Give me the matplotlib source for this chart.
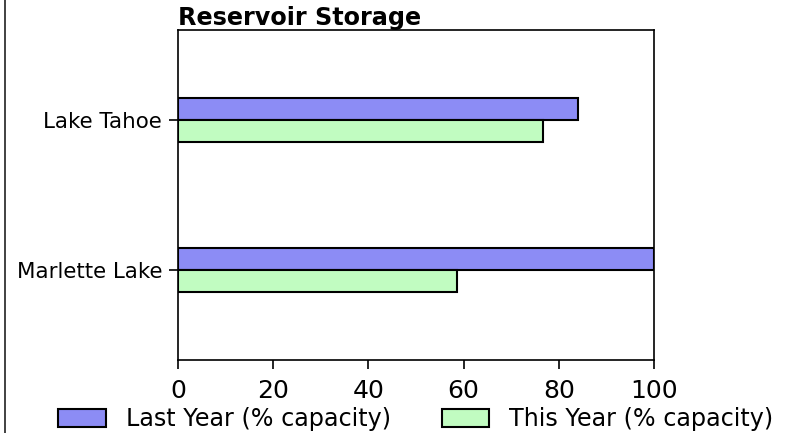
import matplotlib
matplotlib.use("Agg")
import matplotlib.pyplot as plt
import numpy as np
from matplotlib.lines import Line2D

# Data
lakes = ["Lake Tahoe", "Marlette Lake"]
last_year = [84, 100]
this_year = [76.7, 58.7]
series_labels = ["Last Year (% capacity)", "This Year (% capacity)"]
x_ticks = [0, 20, 40, 60, 80, 100]

fig = plt.figure(figsize=(7.88, 4.33), dpi=100)
ax = fig.add_axes([178 / 788, 1 - 360 / 433, 476 / 788, 330 / 433])

pos = np.arange(len(lakes))
bar_h = 0.147
ax.barh(pos - bar_h / 2, last_year, height=bar_h, color="#8c8cf5",
        edgecolor="black", linewidth=1.5, label=series_labels[0])
ax.barh(pos + bar_h / 2, this_year, height=bar_h, color="#c1fcc1",
        edgecolor="black", linewidth=1.5, label=series_labels[1])

ax.set_yticks(pos)
ax.set_yticklabels(lakes, fontsize=15.4)
ax.set_ylim(1.6, -0.6)
ax.set_xlim(0, 100)
ax.set_xticks(x_ticks)
ax.tick_params(axis="x", labelsize=18, length=6.5, width=1.2, pad=7)
ax.tick_params(axis="y", length=6.5, width=1.2, pad=5)
for sp in ax.spines.values():
    sp.set_linewidth(1.2)

ax.set_title("Reservoir Storage", loc="left", fontsize=17.2,
             fontweight="bold", pad=2)

fig.legend(loc="center", bbox_to_anchor=(416 / 788, 1 - 419 / 433), ncol=2,
           frameon=False, fontsize=17.2, handlelength=2.0, handleheight=0.8,
           columnspacing=2.1, handletextpad=0.84)

fig.add_artist(Line2D([5 / 788, 5 / 788], [0, 1], color="#333333",
                      linewidth=1.3, transform=fig.transFigure))

fig.savefig("out.png", dpi=100)
